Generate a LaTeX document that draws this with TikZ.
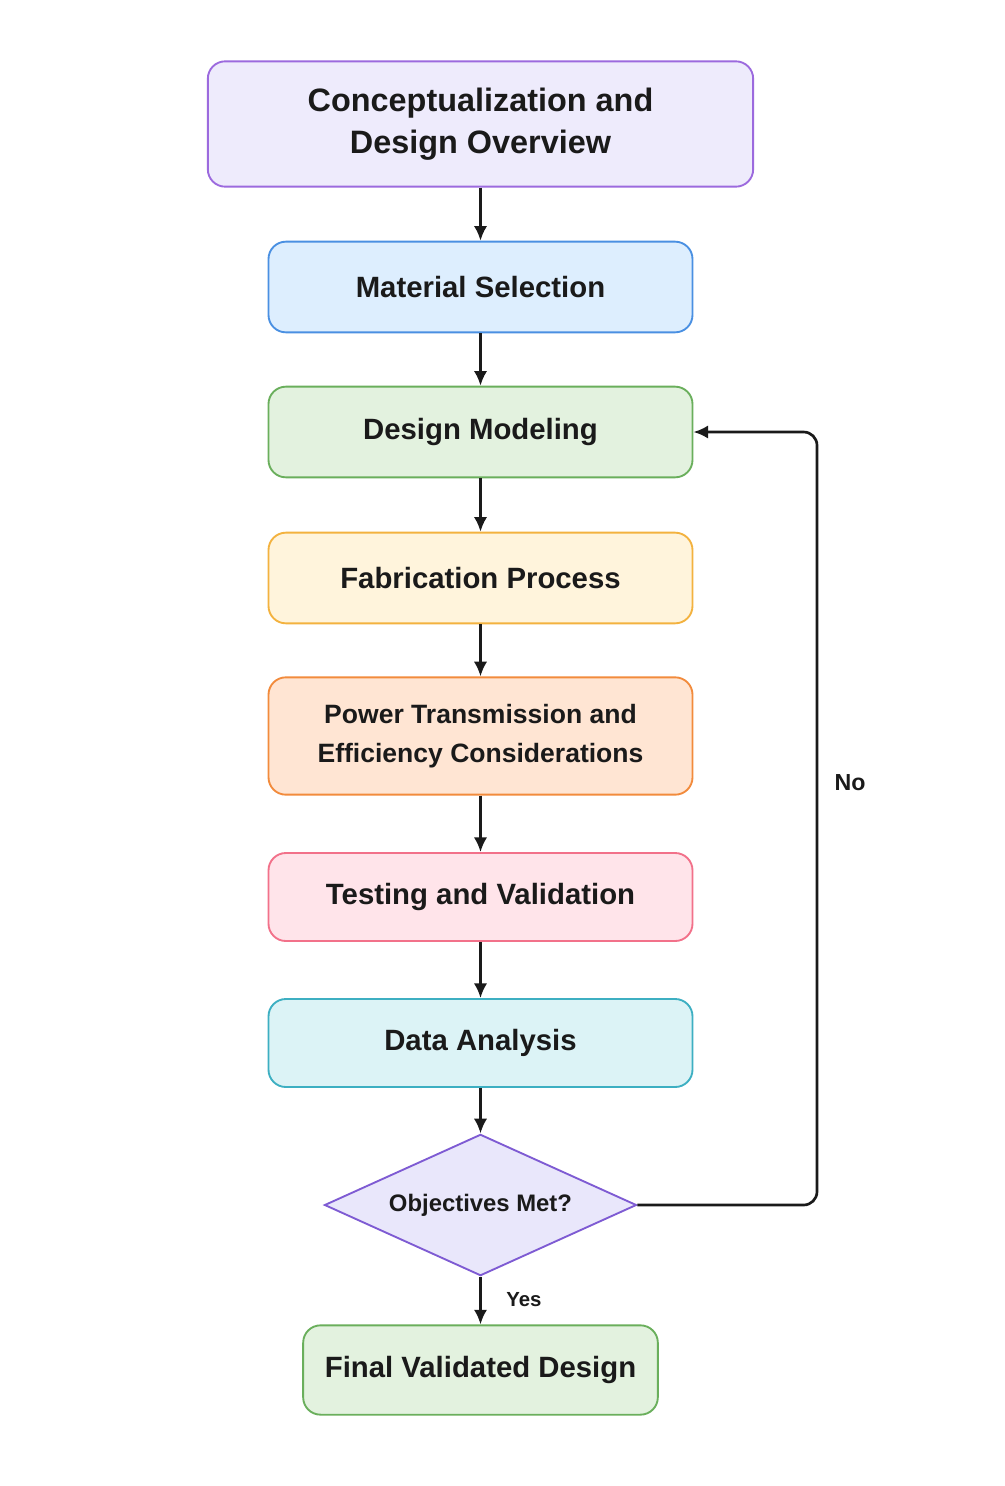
\documentclass[tikz,border=0pt]{standalone}
\usepackage{fontspec}
\setmainfont{Liberation Sans}
\usetikzlibrary{shapes.geometric,arrows.meta}
\definecolor{conceptfill}{HTML}{EEEBFC}
\definecolor{conceptline}{HTML}{9C6ADE}
\definecolor{materialfill}{HTML}{DDEEFE}
\definecolor{materialline}{HTML}{4A90E2}
\definecolor{modelfill}{HTML}{E3F2DF}
\definecolor{modelline}{HTML}{6AAF5C}
\definecolor{fabfill}{HTML}{FFF4DC}
\definecolor{fabline}{HTML}{F3B23F}
\definecolor{powerfill}{HTML}{FFE5D3}
\definecolor{powerline}{HTML}{F28B3C}
\definecolor{testfill}{HTML}{FFE4EA}
\definecolor{testline}{HTML}{F2718A}
\definecolor{datafill}{HTML}{DCF3F6}
\definecolor{dataline}{HTML}{3DAFC2}
\definecolor{checkfill}{HTML}{E9E7FB}
\definecolor{checkline}{HTML}{7E5BD3}
\definecolor{ink}{HTML}{1A1A1A}
\begin{document}
\begin{tikzpicture}[x=0.75pt,y=-0.75pt,
	stage/.style={draw, line width=1.4pt, rounded corners=13pt, align=center,
		text=ink, inner sep=0pt, minimum width=318pt, minimum height=68pt,
		font=\bfseries\fontsize{22}{29}\selectfont},
	flow/.style={-{Latex[length=11pt,width=10pt]}, line width=2pt, ink}]
	\useasboundingbox [fill=white] (0,0) rectangle (1005,1486);
	% main chain
	\node [stage, fill=conceptfill, draw=conceptline, minimum width=409pt, minimum height=94pt,
		font=\bfseries\fontsize{24.3}{31.5}\selectfont] (concept) at (480.5,124) {Conceptualization and\\Design Overview};
	\node [stage, fill=materialfill, draw=materialline] (material) at (480.5,287) {Material Selection};
	\node [stage, fill=modelfill, draw=modelline] (model) at (480.5,432) {Design Modeling};
	\node [stage, fill=fabfill, draw=fabline] (fab) at (480.5,578) {Fabrication Process};
	\node [stage, fill=powerfill, draw=powerline, minimum height=88pt,
		font=\bfseries\fontsize{19.9}{29}\selectfont] (power) at (480.5,736) {Power Transmission and\\Efficiency Considerations};
	\node [stage, fill=testfill, draw=testline, minimum height=66pt] (test) at (480.5,897) {Testing and Validation};
	\node [stage, fill=datafill, draw=dataline, minimum height=66pt] (data) at (480.5,1043) {Data Analysis};
	\node [diamond, aspect=2.2, draw=checkline, fill=checkfill, line width=1.4pt, text=ink, inner sep=0pt,
		minimum width=234pt, minimum height=106pt, font=\bfseries\fontsize{17.9}{20}\selectfont] (check) at (480.5,1205) {Objectives Met?};
	\node [stage, fill=modelfill, draw=modelline, minimum width=266pt, minimum height=67pt] (final) at (480.5,1370) {Final Validated Design};
	% arrows
	\draw [flow] (concept) -- (material);
	\draw [flow] (material) -- (model);
	\draw [flow] (model) -- (fab);
	\draw [flow] (fab) -- (power);
	\draw [flow] (power) -- (test);
	\draw [flow] (test) -- (data);
	\draw [flow] (data) -- (check);
	\draw [flow] (check) -- (final);
	\node [text=ink, font=\bfseries\fontsize{15.3}{17}\selectfont] (yes) at (524,1300) {Yes};
	% loop back
	\coordinate (loop) at (817,0);
	\draw [flow, rounded corners=10pt] (check.east) -- (check.east -| loop) -- (model.east -| loop) -- (model.east);
	\node [text=ink, font=\bfseries\fontsize{17.4}{19}\selectfont] (no) at (850,783) {No};
\end{tikzpicture}
\end{document}
